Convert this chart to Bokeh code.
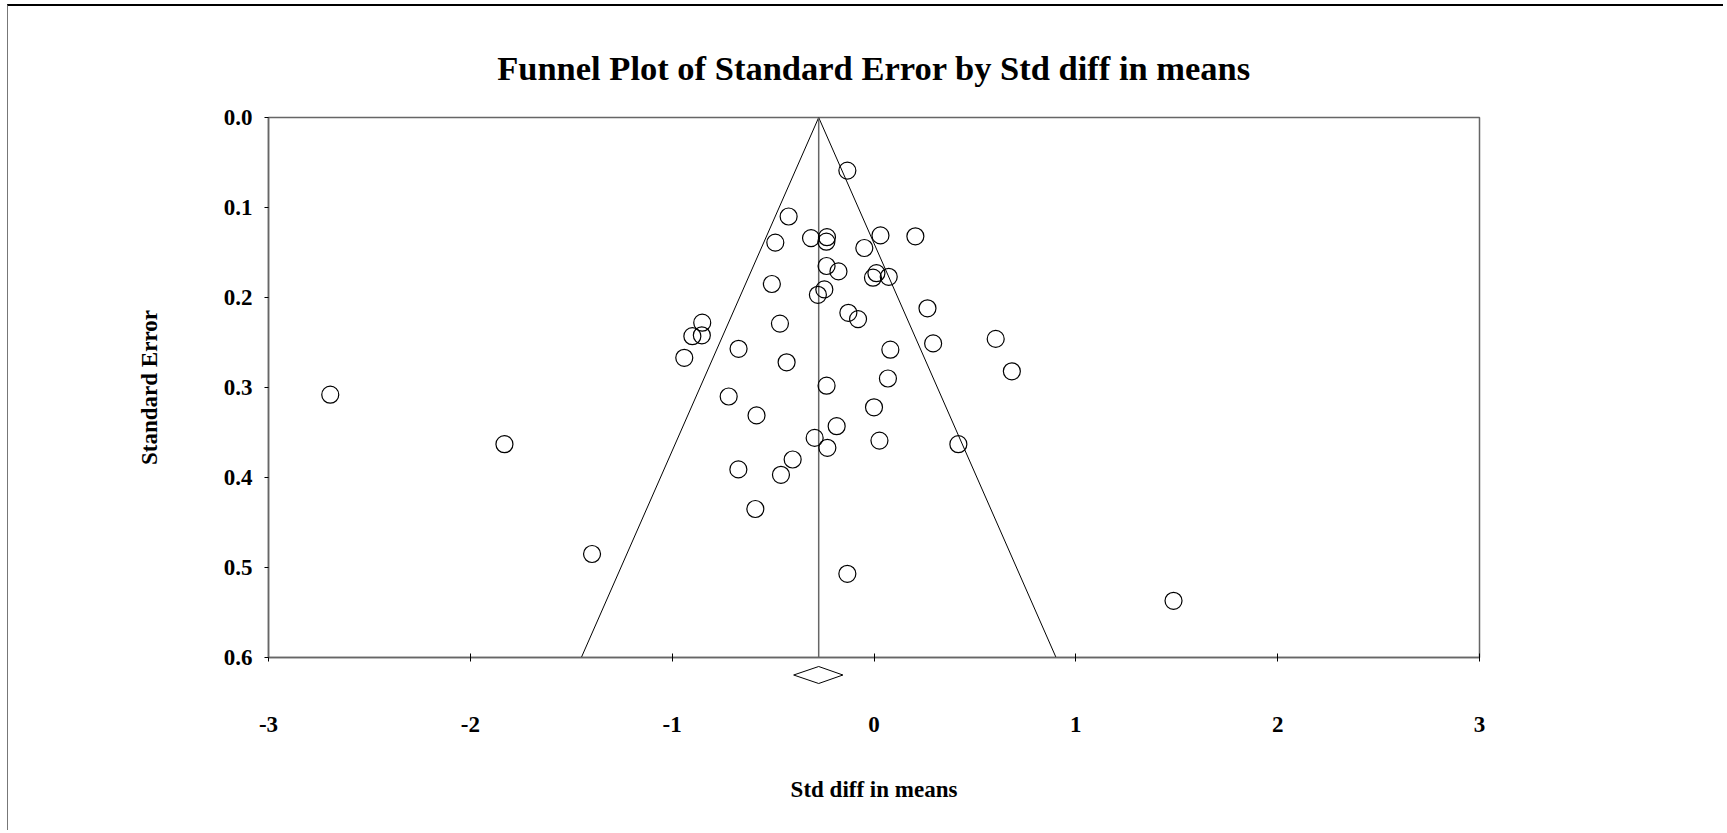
from bokeh.plotting import figure
from bokeh.models import Range1d, FixedTicker, CustomLabelingPolicy
from bokeh.layouts import column
from bokeh.embed import file_html
from bokeh.resources import INLINE

# ---------------- data ----------------
std_diff = [-0.132, -0.423, -0.312, -0.233, -0.236, -0.489, -0.048, -0.235, -0.176, -0.506,
            -0.246, -0.278, -0.127, -0.079, -0.851, -0.900, -0.853, -0.466, -0.671, -0.940,
            -0.433, -0.235, 0.032, 0.205, 0.012, -0.005, 0.073, 0.265, 0.081, 0.293,
            0.603, 0.683, 0.069, 0.000, 0.027, 0.418, -0.720, -0.582, -0.185, -0.294,
            -0.231, -0.403, -0.672, -0.461, -0.588, -0.132, 1.484, -2.694, -1.831, -1.397]
std_err = [0.059, 0.110, 0.134, 0.133, 0.138, 0.139, 0.145, 0.165, 0.171, 0.185,
           0.191, 0.197, 0.217, 0.224, 0.228, 0.243, 0.242, 0.229, 0.257, 0.267,
           0.272, 0.298, 0.131, 0.132, 0.173, 0.178, 0.177, 0.212, 0.258, 0.251,
           0.246, 0.282, 0.290, 0.322, 0.359, 0.363, 0.310, 0.331, 0.343, 0.356,
           0.367, 0.380, 0.391, 0.397, 0.435, 0.507, 0.537, 0.308, 0.363, 0.485]

summary_effect = -0.274
summary_ci = [-0.398, -0.154]
z_crit = 1.96
se_max = 0.6

x_ticks = [-3, -2, -1, 0, 1, 2, 3]
x_tick_labels = ["-3", "-2", "-1", "0", "1", "2", "3"]
y_ticks = [0.0, 0.1, 0.2, 0.3, 0.4, 0.5, 0.6]
y_tick_labels = ["0.0", "0.1", "0.2", "0.3", "0.4", "0.5", "0.6"]

title_text = "Funnel Plot of Standard Error by Std diff in means"
x_label = "Std diff in means"
y_label = "Standard Error"

# ---------------- styling constants ----------------
FONT = "Liberation Serif"
FRAME = "#666666"
W = 1715
ML, MR = 260, 244
OVERLAP = 14

# ---------------- main plot ----------------
p = figure(width=W, height=111 + 541 + OVERLAP, output_backend="svg", toolbar_location=None,
           x_range=Range1d(-3, 3), y_range=Range1d(se_max, 0.0),
           min_border_left=ML, min_border_right=MR, min_border_top=111,
           min_border_bottom=OVERLAP, title=title_text)
p.background_fill_color = "white"
p.border_fill_color = "white"
p.outline_line_color = FRAME
p.outline_line_width = 1.5
p.grid.visible = False

p.title.align = "center"
p.title.text_font = FONT
p.title.text_font_style = "bold"
p.title.text_font_size = "34.5px"
p.title.text_color = "black"
p.title.standoff = 62

xa = p.xaxis[0]
xa.ticker = FixedTicker(ticks=x_ticks)
xa.axis_line_color = FRAME
xa.axis_line_width = 1.5
xa.major_tick_in = 4
xa.major_tick_out = 4
xa.major_tick_line_color = "black"
xa.minor_tick_line_color = None
xa.major_label_standoff = 0
# tick labels are drawn by the strip below (under the summary diamond)
xa.major_label_policy = CustomLabelingPolicy(
    code="for (const i of Array.from(indices)) indices.unset(i)")

ya = p.yaxis[0]
ya.ticker = FixedTicker(ticks=y_ticks)
ya.major_label_overrides = {t: s for t, s in zip(y_ticks, y_tick_labels)}
ya.axis_line_color = FRAME
ya.axis_line_width = 1.5
ya.major_tick_in = 0
ya.major_tick_out = 4
ya.major_tick_line_color = "black"
ya.minor_tick_line_color = None
ya.major_label_standoff = 12
ya.major_label_text_font = FONT
ya.major_label_text_font_style = "bold"
ya.major_label_text_font_size = "23px"
ya.major_label_text_color = "black"
ya.axis_label = y_label
ya.axis_label_standoff = 59
ya.axis_label_text_font = FONT
ya.axis_label_text_font_style = "bold"
ya.axis_label_text_font_size = "23px"
ya.axis_label_text_color = "black"

# funnel (pseudo 95% limits) and summary line
funnel_x = [summary_effect - z_crit * se_max, summary_effect, summary_effect + z_crit * se_max]
funnel_y = [se_max, 0.0, se_max]
p.line(funnel_x, funnel_y, line_color="black", line_width=1)
p.segment(x0=[summary_effect], y0=[0.0], x1=[summary_effect], y1=[se_max],
          line_color=FRAME, line_width=1.5)

# studies
p.scatter(std_diff, std_err, marker="circle", size=17, fill_alpha=0,
          line_color="black", line_width=1.2)

# ---------------- strip below: summary diamond + x tick labels ----------------
QH = 172
q = figure(width=W, height=QH, output_backend="svg", toolbar_location=None,
           x_range=p.x_range, y_range=Range1d(0, 36),
           min_border_left=ML, min_border_right=MR, min_border_top=0,
           min_border_bottom=QH - 36)
q.styles = {"margin-top": "-%dpx" % OVERLAP}
q.background_fill_color = None
q.border_fill_color = None
q.outline_line_color = None
q.grid.visible = False
q.yaxis.visible = False

qa = q.xaxis[0]
qa.ticker = FixedTicker(ticks=x_ticks)
qa.major_label_overrides = {t: s for t, s in zip(x_ticks, x_tick_labels)}
qa.axis_line_color = None
qa.major_tick_line_color = None
qa.minor_tick_line_color = None
qa.major_tick_in = 0
qa.major_tick_out = 0
qa.major_label_standoff = 22
qa.major_label_text_font = FONT
qa.major_label_text_font_style = "bold"
qa.major_label_text_font_size = "23px"
qa.major_label_text_color = "black"
qa.axis_label = x_label
qa.axis_label_standoff = 42
qa.axis_label_text_font = FONT
qa.axis_label_text_font_style = "bold"
qa.axis_label_text_font_size = "23px"
qa.axis_label_text_color = "black"

d_c, d_h = 19.5, 8.5
q.patch(x=[summary_ci[0], summary_effect, summary_ci[1], summary_effect],
        y=[d_c, d_c + d_h, d_c, d_c - d_h],
        fill_alpha=0, line_color="black", line_width=1)

layout = column(p, q, spacing=0,
                styles={"margin-left": "7px", "margin-top": "4px",
                        "border-top": "2px solid #000000",
                        "border-left": "1px solid #777777"})

open("out.html", "w").write(file_html(layout, INLINE))
